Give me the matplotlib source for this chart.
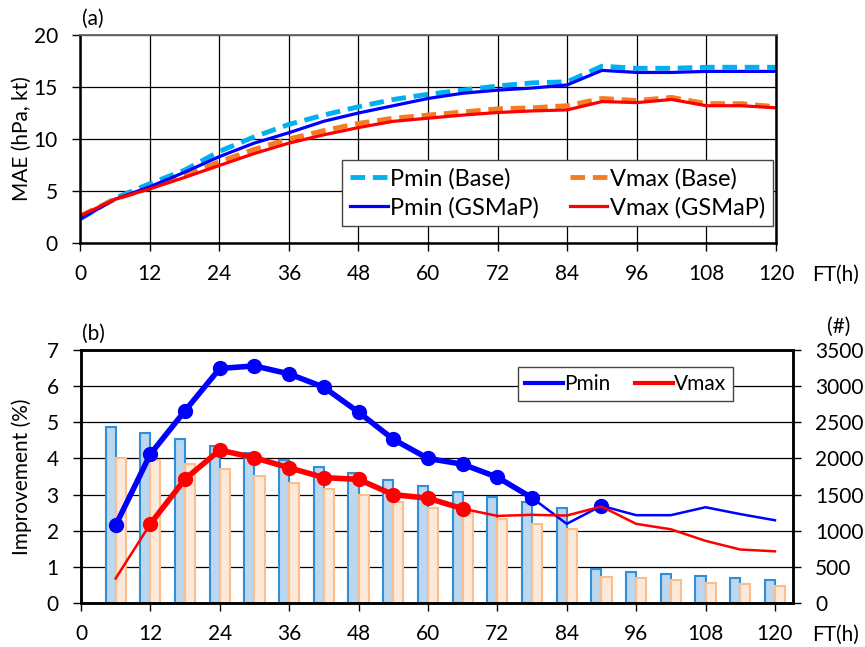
import matplotlib
matplotlib.use("Agg")
import matplotlib.pyplot as plt
import numpy as np
from matplotlib.lines import Line2D

plt.rcParams['font.family'] = ['Lato', 'DejaVu Sans']
plt.rcParams['font.size'] = 15

# (a) MAE por tiempo de pronóstico
ft_a = np.arange(0, 121, 6)
pmin_base = [2.3, 4.3, 5.7, 7.0, 8.8, 10.2, 11.4, 12.3, 13.1, 13.8, 14.3,
             14.7, 15.1, 15.4, 15.5, 17.0, 16.8, 16.8, 16.9, 16.9, 16.9]
pmin_gsmap = [2.3, 4.2, 5.4, 6.8, 8.3, 9.6, 10.6, 11.7, 12.5, 13.2, 13.9,
              14.4, 14.7, 14.9, 15.2, 16.6, 16.4, 16.4, 16.5, 16.5, 16.5]
vmax_base = [2.6, 4.2, 5.3, 6.5, 7.8, 9.0, 10.0, 10.8, 11.5, 12.0, 12.3,
             12.6, 12.9, 13.0, 13.2, 13.9, 13.7, 14.0, 13.4, 13.4, 13.1]
vmax_gsmap = [2.6, 4.2, 5.2, 6.3, 7.45, 8.6, 9.6, 10.4, 11.1, 11.7, 12.0,
              12.3, 12.55, 12.7, 12.8, 13.6, 13.5, 13.8, 13.2, 13.2, 13.0]

# (b) mejora y número de casos
ft_b = np.arange(6, 121, 6)
count_pmin = [2430, 2355, 2273, 2168, 2071, 1974, 1877, 1794, 1702, 1623,
              1540, 1462, 1393, 1310, 466, 429, 401, 374, 346, 318]
count_vmax = [2010, 1979, 1927, 1858, 1761, 1664, 1573, 1490, 1397, 1319,
              1249, 1162, 1093, 1020, 364, 342, 314, 281, 258, 240]
imp_pmin = [2.15, 4.12, 5.32, 6.49, 6.56, 6.34, 5.97, 5.28, 4.53, 4.00,
            3.84, 3.48, 2.91, 2.19, 2.69, 2.43, 2.43, 2.65, 2.46, 2.29]
imp_vmax = [0.68, 2.19, 3.43, 4.23, 4.02, 3.74, 3.47, 3.42, 3.00, 2.90,
            2.61, 2.41, 2.44, 2.42, 2.67, 2.19, 2.04, 1.72, 1.48, 1.43]
sig_pmin = [1, 1, 1, 1, 1, 1, 1, 1, 1, 1, 1, 1, 1, 0, 1, 0, 0, 0, 0, 0]
sig_vmax = [0, 1, 1, 1, 1, 1, 1, 1, 1, 1, 1, 0, 0, 0, 0, 0, 0, 0, 0, 0]

fig = plt.figure(figsize=(8.65, 6.47), dpi=100)

# ---------- panel (a) ----------
ax1 = fig.add_axes([0.0925, 0.6244, 0.8046, 0.3215])
ax1.plot(ft_a, pmin_base, color='#00b0f0', lw=3.5, dashes=(3, 1.6), label='Pmin (Base)')
ax1.plot(ft_a, vmax_base, color='#f57c20', lw=3.5, dashes=(3, 1.6), label='Vmax (Base)')
ax1.plot(ft_a, pmin_gsmap, color='#0000ff', lw=2.3, label='Pmin (GSMaP)')
ax1.plot(ft_a, vmax_gsmap, color='#ff0000', lw=2.3, label='Vmax (GSMaP)')
ax1.set_xlim(0, 120)
ax1.set_ylim(0, 20)
ax1.set_xticks(np.arange(0, 121, 12))
ax1.set_yticks(np.arange(0, 21, 5))
ax1.grid(True, color='black', lw=0.9)
ax1.set_axisbelow(True)
ax1.set_ylabel('MAE (hPa, kt)')
ax1.yaxis.set_label_coords(-0.069, 0.5)
h, l = ax1.get_legend_handles_labels()
order = [0, 2, 1, 3]
ax1.legend([h[i] for i in order], [l[i] for i in order], ncol=2,
           loc='upper left', bbox_to_anchor=(0.395, 0.753),
           bbox_transform=fig.transFigure, fancybox=False,
           edgecolor='#444444', framealpha=1, handlelength=1.6,
           handletextpad=0.1, columnspacing=1.3, borderpad=0.35,
           labelspacing=0.3, borderaxespad=0, fontsize=17)

# ---------- panel (b) ----------
ax2 = fig.add_axes([0.0936, 0.068, 0.823, 0.391])
ax2b = ax2.twinx()
w = 1.75
ax2b.bar(ft_b, count_pmin, width=-w, align='edge', color='#bdd7ee',
         edgecolor='#2f8fd8', lw=1.5, zorder=2)
ax2b.bar(ft_b, count_vmax, width=w, align='edge', color='#fde9d9',
         edgecolor='#fbbf8f', lw=1.5, zorder=2)
ax2b.set_ylim(0, 3500)
ax2b.set_yticks(np.arange(0, 3501, 500))
ax2b.grid(True, color='black', lw=0.9, zorder=0)
ax2b.set_axisbelow(True)

ax2.set_zorder(ax2b.get_zorder() + 1)
ax2.patch.set_visible(False)

for vals, sig, col in [(imp_pmin, sig_pmin, '#0000ff'), (imp_vmax, sig_vmax, '#ff0000')]:
    vals = np.array(vals)
    sig = np.array(sig, dtype=bool)
    ax2.plot(ft_b, vals, color=col, lw=1.8)
    ax2.plot(ft_b, np.where(sig, vals, np.nan), color=col, lw=4)
    ax2.plot(ft_b[sig], vals[sig], 'o', color=col, ms=10)

ax2.set_xlim(0, 123.1)
ax2.set_ylim(0, 7)
ax2.set_xticks(np.arange(0, 121, 12))
ax2.set_yticks(np.arange(0, 8, 1))
ax2.set_ylabel('Improvement (%)')
ax2.yaxis.set_label_coords(-0.069, 0.5)
leg_h = [Line2D([], [], color='#0000ff', lw=3), Line2D([], [], color='#ff0000', lw=3)]
ax2.legend(leg_h, ['Pmin', 'Vmax'], ncol=2, loc='upper left',
           bbox_to_anchor=(0.599, 0.433), bbox_transform=fig.transFigure,
           fancybox=False, edgecolor='#444444', framealpha=1,
           handlelength=1.8, handletextpad=0.05, columnspacing=1.2,
           borderpad=0.35, borderaxespad=0, fontsize=15)

for ax in (ax1, ax2, ax2b):
    for s in ax.spines.values():
        s.set_linewidth(1.8)
        s.set_color('black')
    ax.tick_params(axis='x', direction='out', length=6, width=1, color='black', pad=9)
    ax.tick_params(axis='y', direction='out', length=6, width=1, color='black', pad=10)
ax1.spines['top'].set_color('#666666')
ax1.spines['top'].set_linewidth(1.3)

fig.text(0.095, 0.971, '(a)', ha='left', va='center')
fig.text(0.095, 0.484, '(b)', ha='left', va='center')
fig.text(0.939, 0.575, 'FT(h)', ha='left', va='center')
fig.text(0.939, 0.019, 'FT(h)', ha='left', va='center')
fig.text(0.970, 0.495, '(#)', ha='center', va='center')

fig.savefig('out.png', dpi=100)
